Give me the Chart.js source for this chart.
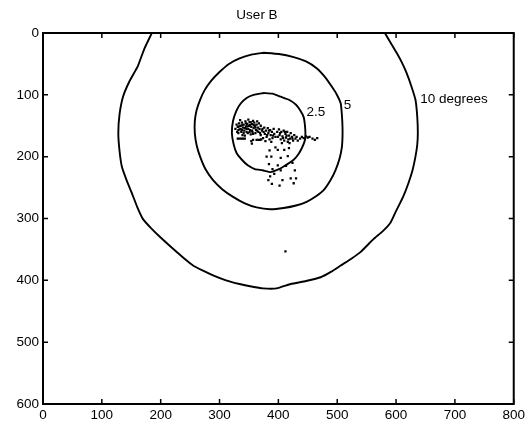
<!DOCTYPE html>
<html>
<head>
<meta charset="utf-8">
<script src="https://cdn.jsdelivr.net/npm/chart.js@4"></script>
<style>
  body { margin: 0; background: #fff; }
</style>
</head>
<body>
<canvas id="chart" width="528" height="423"></canvas>
<script>
// contour lines, [x, y] in screen coords (y down)
const contour25 = [[375,97],[358,100],[346,105],[336,114],[329,125],[323,142],[321,162],[324,180],[329,194],[338,205],[348,214],[360,220],[373,222],[387,225],[399,221],[409,216],[426,205],[434,196],[440,186],[445,174],[446,162],[445,148],[443,136],[437,125],[430,116],[418,108],[404,103],[390,98],[375,97]];
const contour5 = [[375,32],[354,35],[334,41],[316,50],[300,63],[286,77],[275,92],[267,108],[261,125],[258,143],[258,162],[261,181],[267,200],[276,220],[289,238],[305,253],[323,265],[342,275],[363,282],[386,285],[409,283],[430,279],[448,273],[464,264],[477,254],[488,239],[497,222],[504,203],[508,184],[509,168],[509,152],[508,133],[506,114],[499,99],[491,87],[479,71],[465,57],[447,46],[426,39],[401,34],[375,32]];
const contour10 = [[185,0],[172,26],[161,54],[147,78],[136,103],[130,132],[128,162],[130,190],[134,216],[142,238],[151,259],[160,281],[170,301],[184,316],[199,330],[221,349],[238,363],[255,376],[271,384],[289,392],[311,400],[334,406],[354,410],[374,413],[397,413],[421,406],[447,401],[472,395],[490,386],[506,376],[524,365],[540,354],[562,333],[578,320],[591,306],[601,286],[612,265],[621,243],[628,222],[633,200],[636,181],[637,162],[636,135],[633,108],[626,86],[618,65],[610,48],[601,32],[591,16],[581,0]];

// gaze samples
const gazePoints = [
  [329,148],[331,152],[333,146],[334,156],[336,150],[337,160],[338,145],[340,153],[341,148],[342,158],
  [344,143],[345,151],[346,155],[347,147],[348,162],[350,150],[351,144],[352,157],[354,152],[355,147],
  [356,160],[358,154],[359,145],[360,150],[362,157],[363,148],[365,153],[367,146],[370,150],[373,155],
  [332,162],[339,165],[335,141],[349,140],[357,142],[343,166],[353,164],[361,162],[327,155],[330,160],
  [333,151],[336,155],[339,149],[343,154],[346,160],[349,155],[352,149],[355,158],[358,149],[361,153],
  [364,158],[341,162],[345,146],[351,160],[338,157],[347,151],[353,144],[357,163],[332,157],[364,143],
  [366,160],[368,155],[370,165],[372,158],[374,170],[376,153],[377,163],[379,158],[380,168],[382,154],
  [383,162],[385,172],[386,157],[387,165],[389,160],[390,170],[392,155],[393,163],[395,168],[371,172],
  [378,175],[388,176],[375,160],[381,165],[384,158],[391,166],[369,162],
  [398,160],[399,168],[401,156],[402,165],[404,172],[405,160],[407,167],[409,158],[410,174],[412,163],
  [413,169],[415,160],[416,176],[418,166],[420,171],[421,162],[423,168],[425,174],[427,165],[429,171],
  [431,168],[433,174],[406,178],[419,178],[403,162],[408,170],[414,166],[417,172],[424,171],[411,160],
  [437,171],[440,168],[443,170],[447,167],[450,169],[453,168],[458,171],[462,173],[466,170],
  [331,171],[334,171],[337,171],[340,171],[343,171],[354,175],[355,179],[357,173],[363,173],[366,173],[369,173],
  [385,190],[388,200],[384,212],[390,220],[386,232],[389,244],[383,238],[399,189],[410,189],[404,202],
  [416,199],[399,214],[413,215],[421,235],[430,235],[426,243],[404,222],[407,238],[395,185],[418,186],
  [424,210],[428,222],[393,228],[402,247],[380,200],
  [412,353]
];

const contourLabels = ['2.5', '5', '10 degrees'];
const labelX = [448, 511, 641];
const labelY = [128, 117, 108];

const toXY = pts => pts.map(p => ({ x: p[0], y: p[1] }));

const lineStyle = {
  showLine: true,
  borderColor: '#000',
  borderWidth: 1.9,
  pointRadius: 0,
  tension: 0.15,
  fill: false
};

// inward ticks on all four sides + box, like matlab
const boxPlugin = {
  id: 'box',
  beforeDraw(chart) {
    const ctx = chart.ctx;
    ctx.save();
    ctx.fillStyle = '#fff';
    ctx.fillRect(0, 0, chart.width, chart.height);
    ctx.restore();
  },
  afterDraw(chart) {
    const { ctx, chartArea: a, scales } = chart;
    ctx.save();
    ctx.strokeStyle = '#000';
    ctx.lineWidth = 2;
    ctx.strokeRect(a.left, a.top, a.right - a.left, a.bottom - a.top);
    ctx.lineWidth = 1.5;
    ctx.beginPath();
    scales.x.ticks.forEach(t => {
      const px = scales.x.getPixelForValue(t.value);
      ctx.moveTo(px, a.bottom); ctx.lineTo(px, a.bottom - 5);
      ctx.moveTo(px, a.top); ctx.lineTo(px, a.top + 5);
    });
    scales.y.ticks.forEach(t => {
      const py = scales.y.getPixelForValue(t.value);
      ctx.moveTo(a.left, py); ctx.lineTo(a.left + 5, py);
      ctx.moveTo(a.right, py); ctx.lineTo(a.right - 5, py);
    });
    ctx.stroke();

    // contour labels
    ctx.fillStyle = '#000';
    ctx.font = '13.5px "Liberation Sans", Arial, sans-serif';
    ctx.textAlign = 'left';
    ctx.textBaseline = 'middle';
    contourLabels.forEach((txt, i) => {
      ctx.fillText(txt, scales.x.getPixelForValue(labelX[i]), scales.y.getPixelForValue(labelY[i]));
    });
    ctx.restore();
  }
};

const font = { family: '"Liberation Sans", Arial, sans-serif', size: 13.5 };

new Chart(document.getElementById('chart'), {
  type: 'scatter',
  data: {
    datasets: [
      { ...lineStyle, data: toXY(contour10) },
      { ...lineStyle, data: toXY(contour5) },
      { ...lineStyle, data: toXY(contour25) },
      {
        data: toXY(gazePoints),
        pointStyle: 'rect',
        pointRadius: 1.6,
        borderWidth: 0,
        backgroundColor: '#000',
        showLine: false
      }
    ]
  },
  options: {
    responsive: false,
    animation: false,
    layout: { padding: { left: 0, right: 14, top: 0, bottom: 0 } },
    plugins: {
      legend: { display: false },
      tooltip: { enabled: false },
      title: {
        display: true,
        text: 'User B',
        color: '#000',
        font: { ...font, weight: 'normal' },
        padding: { top: 7, bottom: 9.8 }
      }
    },
    scales: {
      x: {
        type: 'linear',
        min: 0, max: 800,
        ticks: { stepSize: 100, color: '#000', font, padding: 3, maxRotation: 0 },
        grid: { display: false, drawTicks: false },
        border: { display: false },
        afterFit(scale) { scale.height = 19; }
      },
      y: {
        type: 'linear',
        reverse: true,
        min: 0, max: 600,
        ticks: { stepSize: 100, color: '#000', font, padding: 4 },
        grid: { display: false, drawTicks: false },
        border: { display: false },
        afterFit(scale) { scale.width = 43; }
      }
    }
  },
  plugins: [boxPlugin]
});
</script>
</body>
</html>
